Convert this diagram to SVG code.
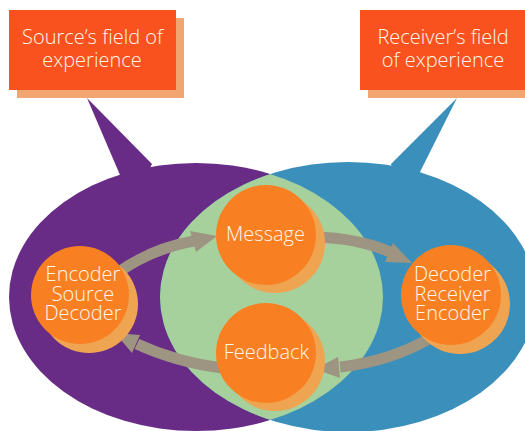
<svg xmlns="http://www.w3.org/2000/svg" width="525" height="431" viewBox="0 0 525 431">
  <style>
    .lbl { font-family: "Open Sans", "Noto Sans", "DejaVu Sans", sans-serif; font-weight: 300; fill: #FFF6EA; text-anchor: middle; }
    .nl { font-size: 20px; }
    .box { fill: #FA521E; }
    .boxsh { fill: #F1A570; }
    .node { fill: #F98022; }
    .nodesh { fill: #EFA452; }
    .shaft { fill: none; stroke: #9D9582; stroke-width: 11; }
    .head { fill: #9D9582; }
  </style>
  <defs>
    <clipPath id="blueArea">
      <ellipse cx="348" cy="297" rx="188" ry="135"/>
    </clipPath>
  </defs>

  <!-- fields of experience -->
  <g id="source-field">
    <polygon points="87,98 152,164 135,200 120,175" fill="#682C86"/>
    <ellipse cx="196" cy="297" rx="187" ry="134" fill="#682C86"/>
  </g>
  <g id="receiver-field">
    <polygon points="457,98 420,172 400,200 391,164" fill="#3A8FBB"/>
    <ellipse cx="348" cy="297" rx="188" ry="135" fill="#3A8FBB"/>
  </g>
  <g id="shared-field">
    <ellipse cx="196" cy="297" rx="187" ry="134" fill="#A7D19C" clip-path="url(#blueArea)"/>
  </g>

  <!-- callout boxes -->
  <g id="source-box">
    <rect class="boxsh" x="17" y="18" width="167" height="80"/>
    <rect class="box" x="9" y="10" width="167" height="80"/>
    <text class="lbl" font-size="20"><tspan x="92.5" y="44">Source’s field of</tspan><tspan x="92" y="67">experience</tspan></text>
  </g>
  <g id="receiver-box">
    <rect class="boxsh" x="368" y="18" width="170" height="80"/>
    <rect class="box" x="360" y="10" width="170" height="80"/>
    <text class="lbl" font-size="20"><tspan x="443" y="44">Receiver’s field</tspan><tspan x="443" y="67">of experience</tspan></text>
  </g>

  <!-- connectors -->
  <g id="connectors">
    <path class="shaft" d="M 116 274 Q 150 249 194 241"/>
    <polygon class="head" points="217,236 190,231 196,252"/>
    <path class="shaft" d="M 314 237 Q 358 238 390 252"/>
    <polygon class="head" points="412,263 393,243 385,262"/>
    <path class="shaft" d="M 432 337 Q 392 361 340 367"/>
    <polygon class="head" points="315,369 338,357 340,378"/>
    <path class="shaft" d="M 222 368 Q 176 362 137 344"/>
    <polygon class="head" points="115,333 140,335 132,353"/>
  </g>

  <!-- nodes -->
  <g id="source-node">
    <circle class="nodesh" cx="89" cy="304" r="49"/>
    <circle class="node" cx="80" cy="295" r="49"/>
    <text class="lbl nl"><tspan x="83" y="281">Encoder</tspan><tspan x="83" y="301">Source</tspan><tspan x="83" y="320">Decoder</tspan></text>
  </g>
  <g id="message-node">
    <circle class="nodesh" cx="275" cy="243" r="50"/>
    <circle class="node" cx="266" cy="235" r="50"/>
    <text class="lbl nl" x="265.5" y="241">Message</text>
  </g>
  <g id="feedback-node">
    <circle class="nodesh" cx="275" cy="361" r="50"/>
    <circle class="node" cx="266" cy="353" r="50"/>
    <text class="lbl nl" x="266.5" y="359">Feedback</text>
  </g>
  <g id="receiver-node">
    <circle class="nodesh" cx="460" cy="304" r="50"/>
    <circle class="node" cx="451" cy="295" r="50"/>
    <text class="lbl nl"><tspan x="452.5" y="281">Decoder</tspan><tspan x="452.5" y="301">Receiver</tspan><tspan x="452.5" y="320">Encoder</tspan></text>
  </g>
</svg>
